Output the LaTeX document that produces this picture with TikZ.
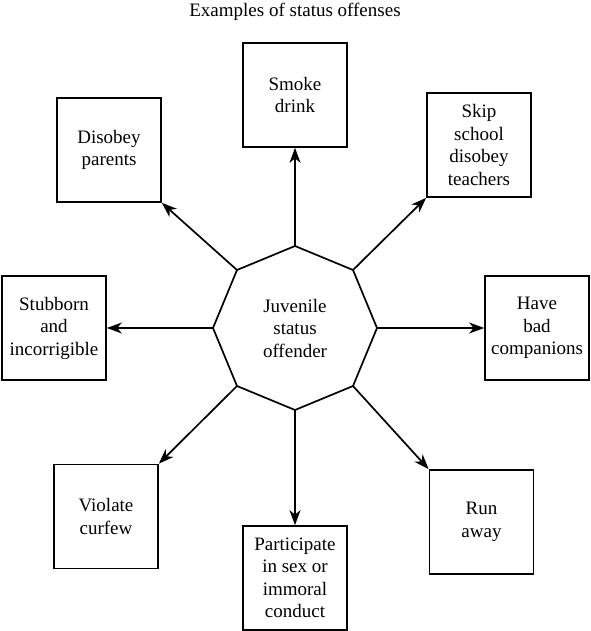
\documentclass[tikz,border=0pt]{standalone}
\usepackage{fontspec}
\setmainfont{Liberation Serif}
\usetikzlibrary{arrows.meta}
\begin{document}
\begin{tikzpicture}[x=1pt,y=-1pt,
  lw/.style={line width=1.7pt},
  box/.style={lw,draw,minimum width=104pt,minimum height=104pt,inner sep=0pt,align=center,font=\fontsize{19}{22.5}\selectfont},
  txt/.style={inner sep=0pt,align=center,font=\fontsize{19}{22.5}\selectfont},
  arr/.style={lw,-{Stealth[length=15pt,width=11pt,inset=4.5pt]}}]
\useasboundingbox (0,0) rectangle (590,631);
\node[txt,anchor=base] (title) at (295,16.5) {Examples of status offenses};
% octagon vertices
\coordinate (vR) at (377,328);
\coordinate (vUR) at (353,270);
\coordinate (vT) at (295,246);
\coordinate (vUL) at (237,270);
\coordinate (vL) at (213,328);
\coordinate (vLL) at (237,386);
\coordinate (vB) at (295,410);
\coordinate (vLR) at (353,386);
\draw[lw,line join=miter] (vR) -- (vUR) -- (vT) -- (vUL) -- (vL) -- (vLL) -- (vB) -- (vLR) -- cycle;
\node[txt] (center) at (295,328) {Juvenile\\status\\offender};
% boxes
\node[box] (smoke) at (295,95) {Smoke\\drink};
\node[box] (disobey) at (109,150) {Disobey\\parents};
\node[box] (skip) at (479,145) {Skip\\school\\disobey\\teachers};
\node[box] (stub) at (54,328) {Stubborn\\and\\incorrigible};
\node[box] (have) at (537,328) {Have\\bad\\companions};
\node[box] (viol) at (106,516.5) {Violate\\curfew};
\node[box] (part) at (295,578) {Participate\\in sex or\\immoral\\conduct};
\node[box] (run) at (481.5,522) {Run\\away};
% arrows
\draw[arr] (vT) -- (smoke.south);
\draw[arr] (vUL) -- (disobey.south east);
\draw[arr] (vUR) -- (skip.south west);
\draw[arr] (vL) -- (stub.east);
\draw[arr] (vR) -- (have.west);
\draw[arr] (vLL) -- (viol.north east);
\draw[arr] (vB) -- (part.north);
\draw[arr] (vLR) -- (run.north west);
\end{tikzpicture}
\end{document}
